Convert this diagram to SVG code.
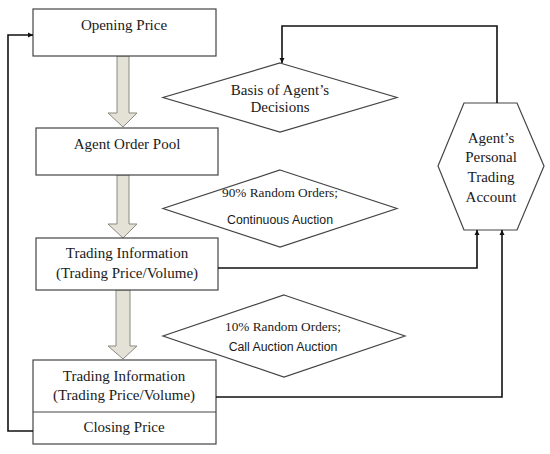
<svg xmlns="http://www.w3.org/2000/svg" width="550" height="454" viewBox="0 0 550 454">
<style>
.box{fill:#fff;stroke:#444;stroke-width:1.2}
.big{fill:#e4e2d6;stroke:#8a8a80;stroke-width:1}
.t{font-family:"Liberation Serif","Times New Roman",serif;font-size:15px;fill:#1a1a1a;text-anchor:middle}
.s{font-family:"Liberation Serif","Times New Roman",serif;font-size:13.3px;fill:#1a1a1a;text-anchor:middle}
.ss{font-family:"Liberation Sans",Arial,sans-serif;font-size:12.3px;fill:#1a1a1a;text-anchor:middle}
.c{fill:none;stroke:#111;stroke-width:1.6}
</style>
<defs>
<marker id="ah" viewBox="0 0 10 10" refX="10" refY="5" markerWidth="5" markerHeight="6" markerUnits="userSpaceOnUse" orient="auto">
<path d="M0,0 L10,5 L0,10 z" fill="#111"/>
</marker>
</defs>
<rect width="550" height="454" fill="#fff"/>
<g id="flow-arrows">
<path class="big" d="M117,56 L129,56 L129,113 L137,113 L123,127 L108,113 L117,113 z"/>
<path class="big" d="M117,175 L129,175 L129,224 L137,224 L123,238 L108,224 L117,224 z"/>
<path class="big" d="M116,290 L130,290 L130,346 L137,346 L123,359 L108,346 L116,346 z"/>
</g>
<g id="opening-price">
<rect class="box" x="33" y="9" width="183" height="47"/>
<text class="t" x="124" y="30">Opening Price</text>
</g>
<g id="agent-order-pool">
<rect class="box" x="36" y="128" width="182" height="47"/>
<text class="t" x="127" y="149">Agent Order Pool</text>
</g>
<g id="trading-info-1">
<rect class="box" x="36" y="238" width="182" height="52"/>
<text class="t" x="127" y="258">Trading Information</text>
<text class="t" x="127" y="278">(Trading Price/Volume)</text>
</g>
<g id="trading-info-2">
<rect class="box" x="33" y="360" width="183" height="84"/>
<line class="box" x1="33" y1="412" x2="216" y2="412"/>
<text class="t" x="124" y="381">Trading Information</text>
<text class="t" x="124" y="400">(Trading Price/Volume)</text>
<text class="t" x="124" y="432">Closing Price</text>
</g>
<g id="basis-decisions">
<polygon class="box" points="280,63 397,97.5 280,132 163,97.5"/>
<text class="t" x="280" y="95">Basis of Agent’s</text>
<text class="t" x="280" y="112">Decisions</text>
</g>
<g id="continuous-auction">
<polygon class="box" points="280,170 397,208.5 280,247 163,208.5"/>
<text class="s" x="280" y="197">90% Random Orders;</text>
<text class="ss" x="280" y="224">Continuous Auction</text>
</g>
<g id="call-auction">
<polygon class="box" points="284,295 405,336 284,377 163,336"/>
<text class="s" x="283" y="331">10% Random Orders;</text>
<text class="ss" x="283" y="351">Call Auction Auction</text>
</g>
<g id="personal-account">
<polygon class="box" points="464,103 517,103 544,166 517,230 464,230 438,166"/>
<text class="t" x="491" y="143">Agent’s</text>
<text class="t" x="491" y="162">Personal</text>
<text class="t" x="491" y="182">Trading</text>
<text class="t" x="491" y="202">Account</text>
</g>
<g id="connectors">
<polyline class="c" points="33,431 8,431 8,35 33,35" marker-end="url(#ah)"/>
<polyline class="c" points="497,103 497,26 282,26 282,63" marker-end="url(#ah)"/>
<polyline class="c" points="218,268 477,268 477,230" marker-end="url(#ah)"/>
<polyline class="c" points="216,397 502,397 502,230" marker-end="url(#ah)"/>
</g>
</svg>
